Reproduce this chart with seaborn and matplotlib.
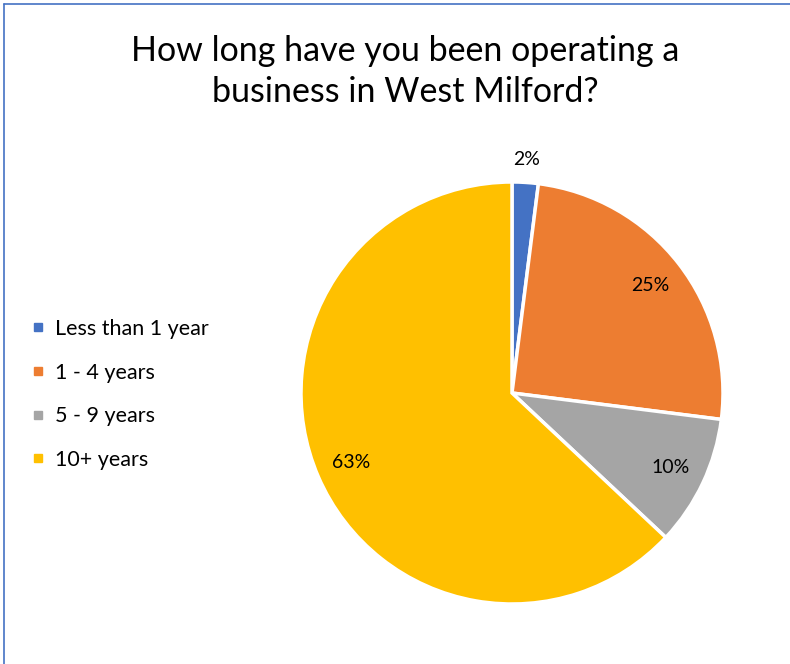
import numpy as np
import matplotlib
matplotlib.use('Agg')
import matplotlib.pyplot as plt
from matplotlib.lines import Line2D
import seaborn as sns

# データ
categories = ['Less than 1 year', '1 - 4 years', '5 - 9 years', '10+ years']
shares = [2, 25, 10, 63]
colors = ['#4472C4', '#ED7D31', '#A5A5A5', '#FFC000']
title = 'How long have you been operating a\nbusiness in West Milford?'

sns.set_theme(style='white')
plt.rcParams['font.family'] = ['Lato', 'DejaVu Sans']
plt.rcParams['text.color'] = '#000000'

fig = plt.figure(figsize=(7.9, 6.64), dpi=100)

# 円グラフ
cx, cy, r = 512, 393, 211
ax = fig.add_axes([(cx - r) / 790, (664 - cy - r) / 664, 2 * r / 790, 2 * r / 664])
wedges, _ = ax.pie(shares, colors=colors, startangle=90, counterclock=False,
                   wedgeprops=dict(edgecolor='white', linewidth=2.5))
ax.set_xlim(-1, 1)
ax.set_ylim(-1, 1)
ax.set_aspect('equal')
ax.axis('off')

# パーセンテージラベル
for w, v in zip(wedges, shares):
    mid = np.deg2rad((w.theta1 + w.theta2) / 2)
    d = 1.11 if v < 5 else 0.83
    ax.text(d * np.cos(mid), d * np.sin(mid), f'{v}%', ha='center', va='center',
            fontsize=14, color='#000000')

# タイトル
fig.text(0.513, 0.892, title, ha='center', va='center', fontsize=24.5,
         linespacing=1.35, color='#000000')

# 凡例
handles = [Line2D([], [], marker='s', linestyle='none', markersize=6,
                  markerfacecolor=c, markeredgecolor=c) for c in colors]
fig.legend(handles, categories, loc='center left', bbox_to_anchor=(32 / 790, 0.406),
           frameon=False, fontsize=15.5, handlelength=0.6, handletextpad=0.45,
           labelspacing=1.1, borderpad=0, borderaxespad=0)

# 枠線（上と左）
bc = '#4472C4'
fig.add_artist(Line2D([4 / 790, 1], [1 - 4 / 664, 1 - 4 / 664], color=bc, lw=1.2,
                      transform=fig.transFigure))
fig.add_artist(Line2D([4 / 790, 4 / 790], [0, 1 - 4 / 664], color=bc, lw=1.2,
                      transform=fig.transFigure))

plt.savefig('out.png', dpi=100)
